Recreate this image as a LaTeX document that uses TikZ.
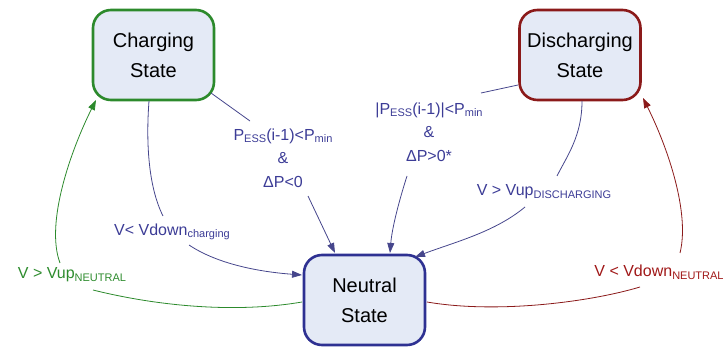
\documentclass[tikz,border=0pt]{standalone}
\usepackage{fontspec}
\setmainfont{Liberation Sans}
\usetikzlibrary{arrows.meta}
\definecolor{boxfill}{RGB}{228,234,246}
\definecolor{cgreen}{RGB}{44,138,44}
\definecolor{cred}{RGB}{139,26,26}
\definecolor{cblue}{RGB}{46,49,146}
\definecolor{tblue}{RGB}{60,60,150}
\definecolor{lblue}{RGB}{70,70,140}
\definecolor{tgreen}{RGB}{46,140,46}
\definecolor{tred}{RGB}{160,24,24}
\newcommand\lsub[1]{\raisebox{-0.3ex}{\fontsize{11}{11}\selectfont #1}}
\tikzset{
  statebox/.style={draw, rounded corners=18pt, line width=2.6pt, fill=boxfill,
    minimum width=121pt, minimum height=90pt, align=center, inner sep=0pt,
    font=\fontsize{20}{30}\selectfont},
  cond/.style={align=center, inner sep=2pt, font=\fontsize{16}{23.5}\selectfont},
  conn/.style={line width=0.8pt},
  tip/.style={-{Triangle[length=10pt,width=7pt]}}
}
\begin{document}
\begin{tikzpicture}[x=1pt,y=-1pt]
\useasboundingbox (0,0) rectangle (728,347);
\node[statebox, draw=cgreen] (charging) at (153.5,55) {Charging\\State};
\node[statebox, draw=cred] (discharging) at (580,55) {Discharging\\State};
\node[statebox, draw=cblue] (neutral) at (364.5,300) {Neutral\\State};

\node[cond, text=tblue] (L1) at (283,158) {P\lsub{ESS}(i-1)<P\lsub{min}\\\&\\ΔP<0};
\node[cond, text=tblue] (L2) at (429,132) {|P\lsub{ESS}(i-1)|<P\lsub{min}\\\&\\ΔP>0*};
\node[cond, text=tblue] (L3) at (544,192) {V > Vup\lsub{DISCHARGING}};
\node[cond, text=tblue] (L4) at (172,232) {V< Vdown\lsub{charging}};
\node[cond, text=tgreen] (L5) at (72,275) {V > Vup\lsub{NEUTRAL}};
\node[cond, text=tred] (L6) at (659,272) {V < Vdown\lsub{NEUTRAL}};

% charging -> neutral via L1
\draw[conn, lblue] ([shift={(57.5,38)}]charging.center) -- ([shift={(-33,-37)}]L1.center);
\draw[conn, lblue, tip] ([shift={(25,38)}]L1.center) -- ([shift={(-29.5,-47)}]neutral.center);
% discharging -> neutral via L2
\draw[conn, lblue] ([shift={(-62,30)}]discharging.center) -- ([shift={(52,-39)}]L2.center);
\draw[conn, lblue, tip] ([shift={(-22,44)}]L2.center) .. controls +(-8,25) and +(2,-25) .. ([shift={(25.5,-47)}]neutral.center);
% charging -> neutral via L4
\draw[conn, lblue] ([shift={(-4.5,46)}]charging.center) .. controls +(-3,40) and +(-15,-30) .. ([shift={(-9,-16)}]L4.center);
\draw[conn, lblue, tip] ([shift={(17,13)}]L4.center) .. controls +(30,20) and +(-40,-3) .. ([shift={(-62.5,-25)}]neutral.center);
% discharging -> neutral via L3
\draw[conn, lblue] ([shift={(2,46)}]discharging.center) .. controls +(0,35) and +(10,-20) .. ([shift={(13,-16)}]L3.center);
\draw[conn, lblue, tip] ([shift={(-19,15)}]L3.center) .. controls +(-30,25) and +(40,-15) .. ([shift={(50.5,-43)}]neutral.center);
% neutral -> charging via L5
\draw[conn, cgreen] ([shift={(-62.5,2)}]neutral.center) .. controls +(-70,12) and +(60,15) .. ([shift={(21,15)}]L5.center);
\draw[conn, cgreen, tip] ([shift={(-12,-12)}]L5.center) .. controls +(-15,-40) and +(-25,50) .. ([shift={(-57.5,45)}]charging.center);
% neutral -> discharging via L6
\draw[conn, cred] ([shift={(62.5,2)}]neutral.center) .. controls +(70,12) and +(-50,15) .. ([shift={(-19,15)}]L6.center);
\draw[conn, cred, tip] ([shift={(21,-19)}]L6.center) .. controls +(10,-40) and +(25,50) .. ([shift={(63,43)}]discharging.center);
\end{tikzpicture}
\end{document}
